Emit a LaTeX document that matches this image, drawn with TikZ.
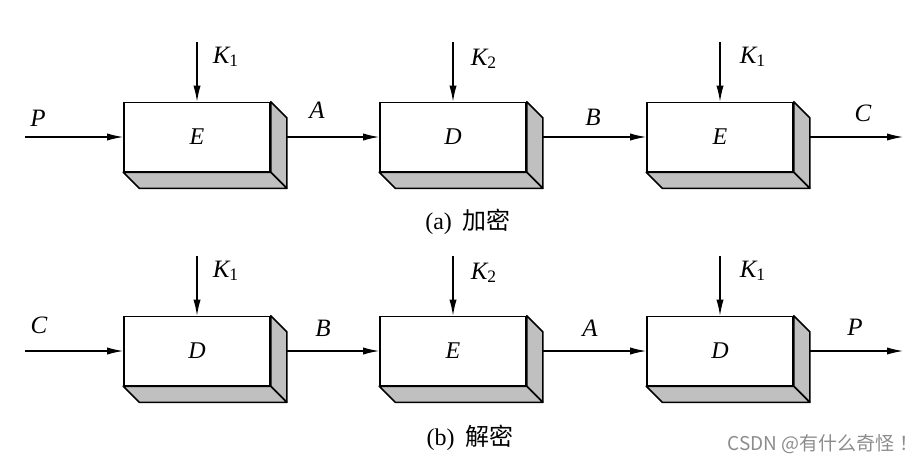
\documentclass[tikz,border=0pt]{standalone}
\usepackage{fontspec}
\setmainfont{Liberation Serif}
\newfontfamily\cjk{Noto Sans CJK SC}
\usetikzlibrary{arrows.meta}
\definecolor{sidegray}{RGB}{192,192,192}
\definecolor{markgray}{RGB}{140,140,140}

\begin{document}
\begin{tikzpicture}
        [x=0.5pt, y=-0.5pt,
        box/.style={draw, thick, fill=white, minimum width=73pt, minimum height=34.5pt,
          inner sep=0pt, font=\itshape\fontsize{12}{14}\selectfont},
        depth/.style={thick, fill=sidegray, line join=round},
        flow/.style={semithick, -{Latex[length=8pt,width=3.6pt]}},
        lab/.style={font=\itshape\fontsize{12.5}{15}\selectfont},
        captext/.style={font=\fontsize{12}{14}\selectfont},
        watermark/.style={text=markgray, font=\cjk\fontsize{9.5}{11}\selectfont}]

        \useasboundingbox (0,0) rectangle (924,466);

        % (a) encryption row
        \node[box] (a1) at (197,137) {E};
        \node[box] (a2) at (453,137) {D};
        \node[box] (a3) at (720,137) {E};

        % (b) decryption row
        \node[box] (b1) at (197,351) {D};
        \node[box] (b2) at (453,351) {E};
        \node[box] (b3) at (720,351) {D};

        % shaded side and bottom faces
        \foreach \b in {a1,a2,a3,b1,b2,b3} {
          \draw[depth] (\b.north east) -- ++(8pt,-8pt) -- ([shift={(8pt,-8pt)}]\b.south east)
            -- (\b.south east) -- cycle;
          \draw[depth] (\b.south west) -- ([shift={(8pt,-8pt)}]\b.south west)
            -- ([shift={(8pt,-8pt)}]\b.south east) -- (\b.south east) -- cycle;
        }

        % free ends of the connectors
        \coordinate (ain) at (25,137);
        \coordinate (aout) at (903,137);
        \coordinate (bin) at (25,351);
        \coordinate (bout) at (903,351);
        \coordinate (ka1) at (197,42);
        \coordinate (ka2) at (453,42);
        \coordinate (ka3) at (720,42);
        \coordinate (kb1) at (197,256);
        \coordinate (kb2) at (453,256);
        \coordinate (kb3) at (720,256);

        % data flow
        \draw[flow] (ain) -- (a1.west);
        \draw[flow] ([xshift=8pt]a1.east) -- (a2.west);
        \draw[flow] ([xshift=8pt]a2.east) -- (a3.west);
        \draw[flow] ([xshift=8pt]a3.east) -- (aout);
        \draw[flow] (bin) -- (b1.west);
        \draw[flow] ([xshift=8pt]b1.east) -- (b2.west);
        \draw[flow] ([xshift=8pt]b2.east) -- (b3.west);
        \draw[flow] ([xshift=8pt]b3.east) -- (bout);

        % keys
        \draw[flow] (ka1) -- (a1.north);
        \draw[flow] (ka2) -- (a2.north);
        \draw[flow] (ka3) -- (a3.north);
        \draw[flow] (kb1) -- (b1.north);
        \draw[flow] (kb2) -- (b2.north);
        \draw[flow] (kb3) -- (b3.north);

        % labels
        \node[lab] (lpa) at (38,118) {P};
        \node[lab] (lka1) at (226,57) {K\textsubscript{\upshape 1}};
        \node[lab] (laa) at (317,110) {A};
        \node[lab] (lka2) at (484,59) {K\textsubscript{\upshape 2}};
        \node[lab] (lba) at (593,117) {B};
        \node[lab] (lka3) at (753,57) {K\textsubscript{\upshape 1}};
        \node[lab] (lca) at (863,113) {C};

        \node[lab] (lcb) at (39,325) {C};
        \node[lab] (lkb1) at (226,271) {K\textsubscript{\upshape 1}};
        \node[lab] (lbb) at (323,328) {B};
        \node[lab] (lkb2) at (484,273) {K\textsubscript{\upshape 2}};
        \node[lab] (lab2) at (590,328) {A};
        \node[lab] (lkb3) at (753,271) {K\textsubscript{\upshape 1}};
        \node[lab] (lpb) at (855,327) {P};

        % captions
        \node[captext] (capa) at (468,222) {(a)\hspace{0.45em}{\cjk 加密}};
        \node[captext] (capb) at (470,438) {(b)\hspace{0.45em}{\cjk 解密}};

        \node[watermark] (csdn) at (823,444) {CSDN @有什么奇怪 ！};

    \end{tikzpicture}
\end{document}
